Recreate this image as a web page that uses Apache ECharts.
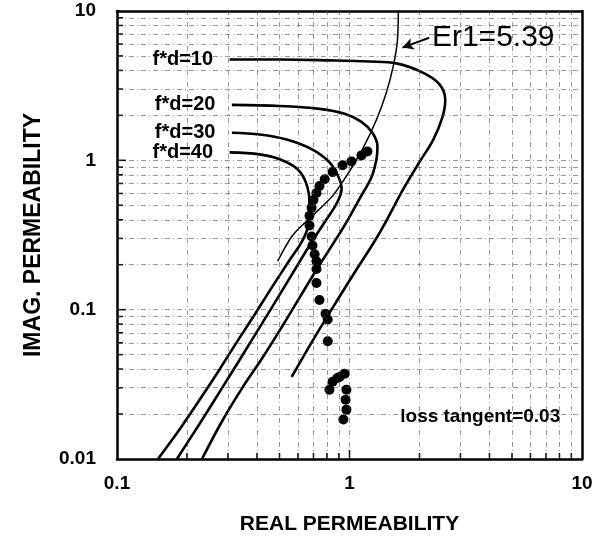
<!DOCTYPE html>
<html>
<head>
<meta charset="utf-8">
<script src="https://cdn.jsdelivr.net/npm/echarts@6/dist/echarts.min.js"></script>
<style>html,body{margin:0;padding:0;background:#fff}#c{width:608px;height:540px}</style>
</head>
<body>
<div id="c"></div>
<script>
// ---- data ----
var xTickValues = [0.1, 1, 10];
var yTickValues = [0.01, 0.1, 1, 10];
var gridX = [0.2,0.3,0.4,0.5,0.6,0.7,0.8,0.9,1,2,3,4,5,6,7,8,9];
var gridY = [0.02,0.03,0.04,0.05,0.06,0.07,0.08,0.09,0.1,0.2,0.3,0.4,0.5,0.6,0.7,0.8,0.9,1,2,3,4,5,6,7,8,9];

var fd10X = [0.305,0.501,0.820,1.219,1.592,2.057,2.434,2.582,2.506,2.294,1.997,1.705,1.456,1.280,1.082,0.887,0.708,0.564];
var fd10Y = [4.73,4.73,4.67,4.59,4.46,3.88,3.24,2.54,1.93,1.377,0.971,0.643,0.406,0.286,0.190,0.116,0.0653,0.0355];

var fd20X = [0.312,0.501,0.743,0.953,1.126,1.255,1.319,1.306,1.243,1.104,0.990,0.879,0.729,0.609,0.501,0.419,0.348,0.283,0.232];
var fd20Y = [2.35,2.31,2.21,2.05,1.81,1.53,1.24,1.016,0.771,0.552,0.406,0.300,0.190,0.120,0.0726,0.0467,0.0304,0.0179,0.01];

var fd30X = [0.312,0.411,0.537,0.693,0.820,0.898,0.925,0.879,0.789,0.673,0.564,0.468,0.391,0.330,0.285,0.227,0.181];
var fd30Y = [1.53,1.49,1.377,1.18,0.971,0.771,0.643,0.512,0.394,0.269,0.171,0.106,0.0673,0.0438,0.0304,0.0173,0.01];

var fd40X = [0.305,0.411,0.501,0.598,0.653,0.673,0.667,0.628,0.552,0.462,0.391,0.327,0.277,0.239,0.190,0.150];
var fd40Y = [1.130,1.096,1.016,0.871,0.693,0.512,0.377,0.291,0.214,0.140,0.0927,0.0604,0.0401,0.0282,0.0166,0.01];

var er1X = [1.622,1.607,1.545,1.442,1.306,1.148,1.0,0.846,0.693,0.569,0.491];
var er1Y = [10,6.33,4.32,2.86,1.87,1.22,0.845,0.578,0.426,0.314,0.211];

var measX = [1.195,1.126,1.02,0.933,0.846,0.782,0.743,0.721,0.700,0.687,0.673,0.673,0.687,0.693,0.708,0.721,0.721,0.721,0.743,0.789,0.806,0.806,0.953,0.887,0.846,0.820,0.970,0.962,0.970,0.941,0.906];
var measY = [1.147,1.079,0.984,0.927,0.834,0.748,0.673,0.604,0.543,0.481,0.426,0.366,0.309,0.269,0.235,0.211,0.187,0.151,0.116,0.094,0.086,0.0614,0.0372,0.0349,0.0329,0.0291,0.0291,0.0249,0.0214,0.0184,0.0354];

var curveLabels = ['f*d=10','f*d=20','f*d=30','f*d=40'];
var er1Label = 'Er1=5.39';
var er1ArrowFrom = [2.20, 6.62];
var er1ArrowTo = [1.69, 5.69];
var lossLabel = 'loss tangent=0.03';
var lossLabelAt = [3.65, 0.0193];

function pairs(xs, ys){ return xs.map(function(x,i){ return [x, ys[i]]; }); }

var FONT = '"Liberation Sans", Arial, sans-serif';
var xMin = xTickValues[0], xMax = xTickValues[xTickValues.length-1];
var yMin = yTickValues[0], yMax = yTickValues[yTickValues.length-1];
var curves = [[fd10X,fd10Y],[fd20X,fd20Y],[fd30X,fd30Y],[fd40X,fd40Y]];

var series = [];
// grid lines
series.push({
  type:'line', data:[], silent:true,
  markLine:{
    silent:true, symbol:'none', animation:false,
    label:{show:false},
    lineStyle:{color:'#444', width:1, type:[5,3,1,3], opacity:0.55},
    data: gridX.map(function(v){return {xAxis:v};}).concat(gridY.map(function(v){return {yAxis:v};}))
  }
});
// inside tick marks (bottom and left axes)
series.push({
  type:'custom', silent:true, animation:false, clip:false,
  data: gridX.map(function(v){ return [v, yMin]; }),
  renderItem:function(params, api){
    var p = api.coord([api.value(0), api.value(1)]);
    var major = Math.abs(Math.log10(api.value(0)) - Math.round(Math.log10(api.value(0)))) < 1e-9;
    return {type:'line', shape:{x1:p[0], y1:p[1], x2:p[0], y2:p[1]-(major?9:6)}, style:{stroke:'#000', lineWidth:1.5}};
  }
});
series.push({
  type:'custom', silent:true, animation:false, clip:false,
  data: gridY.map(function(v){ return [xMin, v]; }),
  renderItem:function(params, api){
    var p = api.coord([api.value(0), api.value(1)]);
    var major = Math.abs(Math.log10(api.value(1)) - Math.round(Math.log10(api.value(1)))) < 1e-9;
    return {type:'line', shape:{x1:p[0], y1:p[1], x2:p[0]+(major?9:6), y2:p[1]}, style:{stroke:'#000', lineWidth:1.5}};
  }
});
curves.forEach(function(c, i){
  series.push({
    type:'line', data:pairs(c[0], c[1]), smooth:0.35, showSymbol:false, symbol:'none',
    lineStyle:{color:'#000', width:2.6}, silent:true, animation:false,
    markPoint:{
      symbol:'circle', symbolSize:1, itemStyle:{color:'rgba(0,0,0,0)'},
      label:{show:true, position:'left', distance:16, formatter:curveLabels[i], color:'#000',
        fontFamily:FONT, fontWeight:'bold', fontSize:20},
      data:[{coord:[c[0][0], c[1][0]]}]
    }
  });
});
series.push({
  type:'line', data:pairs(er1X, er1Y), smooth:0.3, showSymbol:false, symbol:'none',
  lineStyle:{color:'#000', width:1.5}, silent:true, animation:false,
  markLine:{
    silent:true, animation:false, symbol:['none','arrow'], symbolSize:[9,11],
    lineStyle:{color:'#000', width:2, type:'solid'},
    label:{show:true, position:'start', formatter:er1Label, color:'#000', fontFamily:FONT,
      fontSize:30, distance:[3,0]},
    data:[[{coord:er1ArrowFrom},{coord:er1ArrowTo}]]
  }
});
series.push({
  type:'scatter', data:pairs(measX, measY), symbol:'circle', symbolSize:10,
  itemStyle:{color:'#000', opacity:1}, silent:true, animation:false,
  markPoint:{
    symbol:'circle', symbolSize:1, itemStyle:{color:'rgba(0,0,0,0)'},
    label:{show:true, position:'inside', formatter:lossLabel, color:'#000',
      fontFamily:FONT, fontWeight:'bold', fontSize:19},
    data:[{coord:lossLabelAt}]
  }
});

var frameLine = {show:true, onZero:false, lineStyle:{color:'#000', width:2.5}};
var chart = echarts.init(document.getElementById('c'), null, {renderer:'canvas'});
chart.setOption({
  backgroundColor:'#fff',
  animation:false,
  grid:{left:117, right:26, top:11, bottom:77, show:false},
  xAxis:[{
    type:'log', logBase:10, min:xMin, max:xMax,
    name:'REAL PERMEABILITY', nameLocation:'middle', nameGap:55,
    nameTextStyle:{color:'#000', fontFamily:FONT, fontWeight:'bold', fontSize:21},
    axisLine:frameLine,
    axisTick:{show:false},
    axisLabel:{color:'#000', fontFamily:FONT, fontWeight:'bold', fontSize:19, margin:15,
      formatter:function(v){return String(v);}},
    splitLine:{show:false}
  },{
    type:'log', logBase:10, min:xMin, max:xMax, position:'top',
    axisLine:frameLine, axisTick:{show:false}, axisLabel:{show:false}, splitLine:{show:false}
  }],
  yAxis:[{
    type:'log', logBase:10, min:yMin, max:yMax,
    name:'IMAG. PERMEABILITY', nameLocation:'middle', nameGap:72,
    nameTextStyle:{color:'#000', fontFamily:FONT, fontWeight:'bold', fontSize:23},
    axisLine:frameLine,
    axisTick:{show:false},
    axisLabel:{color:'#000', fontFamily:FONT, fontWeight:'bold', fontSize:19, margin:21,
      formatter:function(v){return String(v);}},
    splitLine:{show:false}
  },{
    type:'log', logBase:10, min:yMin, max:yMax, position:'right',
    axisLine:frameLine, axisTick:{show:false}, axisLabel:{show:false}, splitLine:{show:false}
  }],
  series: series
});
</script>
</body>
</html>
